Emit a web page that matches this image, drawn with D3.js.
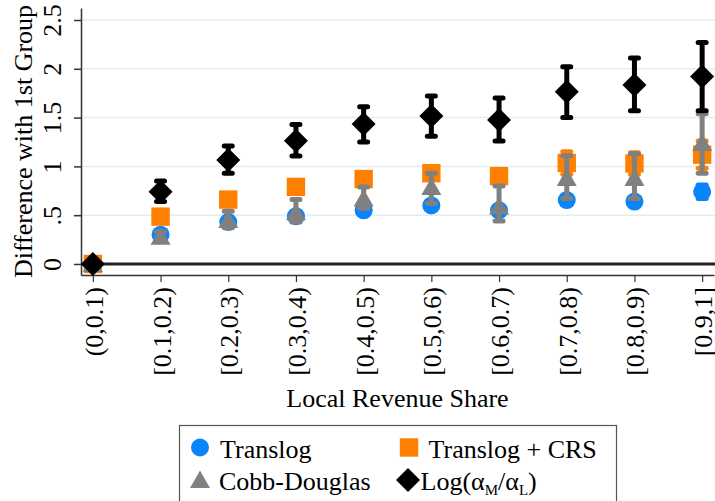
<!DOCTYPE html>
<html>
<head>
<meta charset="utf-8">
<script src="https://cdn.jsdelivr.net/npm/d3@7"></script>
<style>
  body { margin: 0; background: #fff; }
  text { font-family: "Liberation Serif", "Times New Roman", serif; fill: #000; }
</style>
</head>
<body>
<div></div>
<script>
// categories and tick labels
var categories = ["(0,0.1)", "[0.1,0.2)", "[0.2,0.3)", "[0.3,0.4)", "[0.4,0.5)",
                  "[0.5,0.6)", "[0.6,0.7)", "[0.7,0.8)", "[0.8,0.9)", "[0.9,1]"];
var yTicks = [0, 0.5, 1, 1.5, 2, 2.5];
var yTickLabels = ["0", ".5", "1", "1.5", "2", "2.5"];

// point estimates and 95% bands
var translog   = [0, 0.30, 0.43, 0.49, 0.55, 0.60, 0.55, 0.655, 0.64, 0.74];
var translogLo = [0, 0.27, 0.40, 0.46, 0.52, 0.57, 0.52, 0.61, 0.60, 0.67];
var translogHi = [0, 0.33, 0.46, 0.52, 0.58, 0.63, 0.58, 0.70, 0.68, 0.81];

var crs   = [0, 0.485, 0.66, 0.79, 0.87, 0.93, 0.90, 1.035, 1.03, 1.12];
var crsLo = [0, 0.47, 0.64, 0.76, 0.84, 0.89, 0.85, 0.92, 0.92, 0.98];
var crsHi = [0, 0.50, 0.68, 0.82, 0.90, 0.97, 0.96, 1.15, 1.14, 1.26];

var cobb   = [0, 0.28, 0.45, 0.53, 0.67, 0.79, 0.59, 0.88, 0.88, 1.24];
var cobbLo = [0, 0.24, 0.37, 0.43, 0.57, 0.62, 0.44, 0.67, 0.67, 0.93];
var cobbHi = [0, 0.33, 0.54, 0.66, 0.79, 0.93, 0.80, 1.11, 1.13, 1.54];

var logRatio   = [0, 0.74, 1.066, 1.263, 1.434, 1.516, 1.475, 1.766, 1.834, 1.92];
var logRatioLo = [0, 0.64, 0.93, 1.107, 1.25, 1.31, 1.26, 1.50, 1.57, 1.57];
var logRatioHi = [0, 0.85, 1.21, 1.43, 1.61, 1.72, 1.70, 2.02, 2.11, 2.27];

var series = [
  {name: "Translog", values: translog, lo: translogLo, hi: translogHi, color: "#0a84fb", shape: "circle"},
  {name: "Translog + CRS", values: crs, lo: crsLo, hi: crsHi, color: "#ff8000", shape: "square"},
  {name: "Cobb-Douglas", values: cobb, lo: cobbLo, hi: cobbHi, color: "#808080", shape: "triangle"},
  {name: "Log", values: logRatio, lo: logRatioLo, hi: logRatioHi, color: "#000000", shape: "diamond"}
];

function markerPath(shape) {
  if (shape == "circle") return "M9,0A9,9 0 1,1 -9,0A9,9 0 1,1 9,0Z";
  if (shape == "square") return "M-9.2,-9.2H9.2V9.2H-9.2Z";
  if (shape == "triangle") return "M0,-9.5L10,8L-10,8Z";
  return "M0,-12L12,0L0,12L-12,0Z";
}

var svg = d3.select("body").select("div").append("svg")
    .attr("width", 715)
    .attr("height", 501);

// scales
var x = d3.scalePoint().domain(categories).range([81, 714]).padding(0.175);
var y = d3.scaleLinear().domain([-0.113, 2.623]).range([275, 8]);

// grid lines
svg.append("g").selectAll("line")
    .data(yTicks.filter(function(d) { return d > 0; }))
    .enter().append("line")
    .attr("x1", 81).attr("x2", 715)
    .attr("y1", function(d) { return y(d); })
    .attr("y2", function(d) { return y(d); })
    .style("stroke", "#e3ecee")
    .style("stroke-width", 1.5);

// zero reference line
svg.append("line")
    .attr("x1", 81).attr("x2", 715)
    .attr("y1", y(0)).attr("y2", y(0))
    .style("stroke", "#222")
    .style("stroke-width", 3);

// y axis
var yAxis = svg.append("g")
    .attr("transform", "translate(81,0)")
    .call(d3.axisLeft(y).tickValues(yTicks).tickSize(7).tickSizeOuter(0)
        .tickFormat(function(d, i) { return yTickLabels[i]; }));
yAxis.attr("font-size", 26);
yAxis.selectAll("text")
    .attr("x", null).attr("dy", null)
    .attr("text-anchor", "middle")
    .attr("transform", "translate(-20,0) rotate(-90)");
yAxis.selectAll("line").style("stroke", "#333").style("stroke-width", 1.5);
yAxis.select(".domain").style("stroke", "#333").style("stroke-width", 1.5);

// x axis
var xAxis = svg.append("g")
    .attr("transform", "translate(0,275)")
    .call(d3.axisBottom(x).tickSize(7).tickSizeOuter(0));
xAxis.attr("font-size", 26);
xAxis.selectAll("text")
    .attr("y", null).attr("dy", null)
    .attr("text-anchor", "end")
    .attr("transform", "translate(9.5,12) rotate(-90)");
xAxis.selectAll("line").style("stroke", "#333").style("stroke-width", 1.2);
xAxis.select(".domain").style("stroke", "#333").style("stroke-width", 1.5);

// axis titles
svg.append("text")
    .text("Local Revenue Share")
    .attr("x", 397.5)
    .attr("y", 407)
    .attr("text-anchor", "middle")
    .style("font-size", 26);

svg.append("text")
    .text("Difference with 1st Group")
    .attr("text-anchor", "middle")
    .attr("transform", "translate(32,141.5) rotate(-90)")
    .style("font-size", 26);

// error bars and markers, one series after another
series.forEach(function(s) {
  var g = svg.append("g");
  var idx = d3.range(categories.length).filter(function(i) { return s.hi[i] > s.lo[i]; });

  g.selectAll(".bar")
      .data(idx)
      .enter().append("line")
      .attr("x1", function(i) { return x(categories[i]); })
      .attr("x2", function(i) { return x(categories[i]); })
      .attr("y1", function(i) { return y(s.lo[i]); })
      .attr("y2", function(i) { return y(s.hi[i]); })
      .style("stroke", s.color)
      .style("stroke-width", 5);

  ["lo", "hi"].forEach(function(k) {
    g.selectAll(".cap-" + k)
        .data(idx)
        .enter().append("line")
        .attr("x1", function(i) { return x(categories[i]) - 4; })
        .attr("x2", function(i) { return x(categories[i]) + 4; })
        .attr("y1", function(i) { return y(s[k][i]); })
        .attr("y2", function(i) { return y(s[k][i]); })
        .style("stroke", s.color)
        .style("stroke-width", 5)
        .style("stroke-linecap", "round");
  });

  g.selectAll(".mark")
      .data(s.values)
      .enter().append("path")
      .attr("d", markerPath(s.shape))
      .attr("transform", function(d, i) { return "translate(" + x(categories[i]) + "," + y(d) + ")"; })
      .style("fill", s.color);
});

// legend
var legend = svg.append("g").attr("class", "legend");
legend.append("rect")
    .attr("x", 179.5).attr("y", 425.5)
    .attr("width", 437).attr("height", 100)
    .style("fill", "none")
    .style("stroke", "#555")
    .style("stroke-width", 1.2);

var keyPos = [[200, 447.5, 220], [409, 447.5, 428.5], [200, 480, 219], [408, 480, 420.5]];
series.forEach(function(s, i) {
  var p = keyPos[i];
  legend.append("path")
      .attr("d", markerPath(s.shape))
      .attr("transform", "translate(" + p[0] + "," + p[1] + ")")
      .style("fill", s.color);
  var t = legend.append("text")
      .attr("x", p[2])
      .attr("y", p[1] + 10)
      .style("font-size", 26);
  if (s.shape == "diamond") {
    t.append("tspan").text("Log(\u03b1");
    t.append("tspan").text("M").attr("dy", 5).style("font-size", 15);
    t.append("tspan").text("/\u03b1").attr("dy", -5);
    t.append("tspan").text("L").attr("dy", 5).style("font-size", 15);
    t.append("tspan").text(")").attr("dy", -5);
  } else {
    t.text(s.name);
  }
});
</script>
</body>
</html>
